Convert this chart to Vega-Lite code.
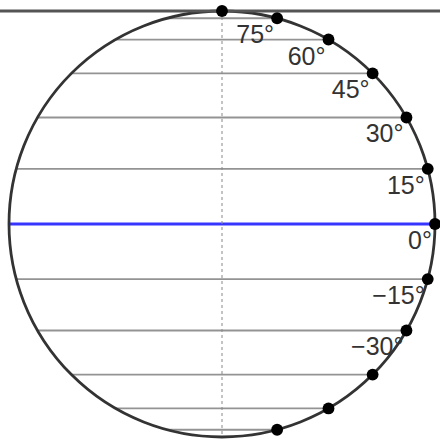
{
  "$schema": "https://vega.github.io/schema/vega-lite/v6.json",
  "width": 440,
  "height": 441,
  "autosize": "none",
  "padding": 0,
  "background": "white",
  "config": {"view": {"stroke": null}},
  "datasets": {
    "lat": [
      {"lat": 90, "x": 0, "nx": 0, "y": 1, "label": ""},
      {"lat": 75, "x": 0.2588, "nx": -0.2588, "y": 0.9659, "label": "75°"},
      {"lat": 60, "x": 0.5, "nx": -0.5, "y": 0.866, "label": "60°"},
      {"lat": 45, "x": 0.7071, "nx": -0.7071, "y": 0.7071, "label": "45°"},
      {"lat": 30, "x": 0.866, "nx": -0.866, "y": 0.5, "label": "30°"},
      {"lat": 15, "x": 0.9659, "nx": -0.9659, "y": 0.2588, "label": "15°"},
      {"lat": 0, "x": 1, "nx": -1, "y": 0, "label": "0°"},
      {"lat": -15, "x": 0.9659, "nx": -0.9659, "y": -0.2588, "label": "−15°"},
      {"lat": -30, "x": 0.866, "nx": -0.866, "y": -0.5, "label": "−30°"},
      {"lat": -45, "x": 0.7071, "nx": -0.7071, "y": -0.7071, "label": ""},
      {"lat": -60, "x": 0.5, "nx": -0.5, "y": -0.866, "label": ""},
      {"lat": -75, "x": 0.2588, "nx": -0.2588, "y": -0.9659, "label": ""}
    ],
    "center": [{"x": 0, "y": 0, "top": 1, "bottom": -1}]
  },
  "encoding": {
    "x": {"field": "x", "type": "quantitative", "scale": {"domain": [-1.0423, 1.0235], "nice": false, "zero": false}, "axis": null},
    "y": {"field": "y", "type": "quantitative", "scale": {"domain": [-1.0188, 1.0516], "nice": false, "zero": false}, "axis": null}
  },
  "layer": [
    {
      "data": {"name": "lat"},
      "transform": [{"filter": "datum.lat != 0 && datum.lat != 90"}],
      "mark": {"type": "rule", "color": "#939393", "strokeWidth": 1.8},
      "encoding": {
        "x": {"field": "nx", "type": "quantitative"},
        "x2": {"field": "x"}
      }
    },
    {
      "data": {"name": "lat"},
      "transform": [{"filter": "datum.lat == 0"}],
      "mark": {"type": "rule", "color": "#3535ff", "strokeWidth": 3},
      "encoding": {
        "x": {"field": "nx", "type": "quantitative"},
        "x2": {"field": "x"}
      }
    },
    {
      "data": {"name": "center"},
      "mark": {"type": "rule", "color": "#888888", "strokeWidth": 1, "strokeDash": [3, 3]},
      "encoding": {
        "y": {"field": "top", "type": "quantitative"},
        "y2": {"field": "bottom"}
      }
    },
    {
      "data": {"name": "center"},
      "mark": {"type": "point", "shape": "circle", "filled": false, "size": 181476, "stroke": "#333333", "strokeWidth": 2.8, "opacity": 1}
    },
    {
      "data": {"name": "center"},
      "mark": {"type": "rule", "color": "#555555", "strokeWidth": 3},
      "encoding": {
        "x": null,
        "y": {"field": "top", "type": "quantitative"}
      }
    },
    {
      "data": {"name": "lat"},
      "mark": {"type": "point", "shape": "circle", "filled": true, "size": 140, "color": "black", "opacity": 1}
    },
    {
      "data": {"name": "lat"},
      "mark": {"type": "text", "align": "right", "baseline": "top", "dx": -3, "dy": 5, "font": "Liberation Sans Narrow, Liberation Sans", "fontSize": 25, "color": "#333333"},
      "encoding": {"text": {"field": "label"}}
    }
  ]
}
